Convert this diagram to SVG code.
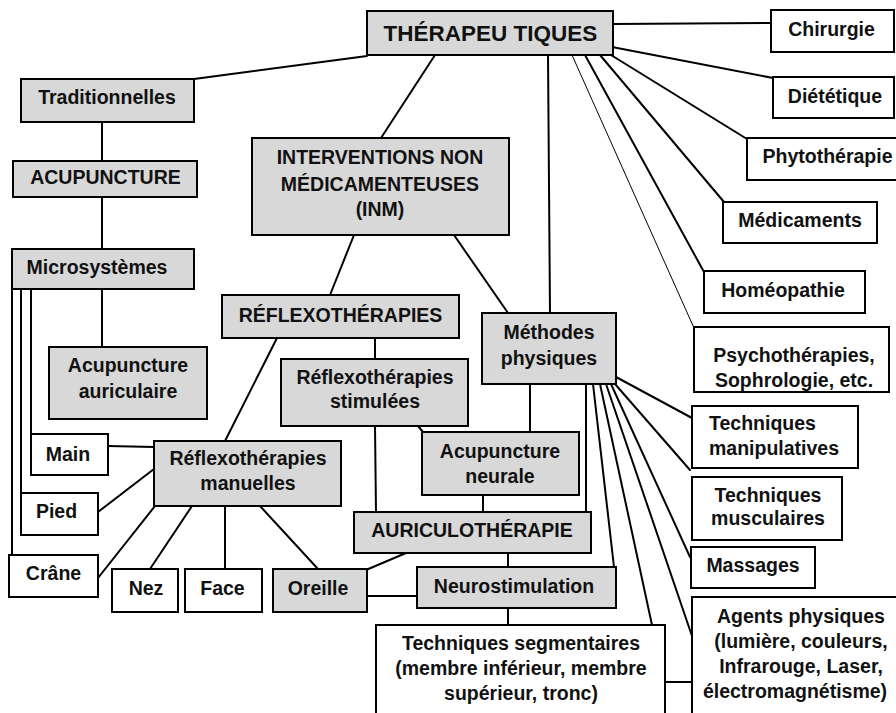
<svg xmlns="http://www.w3.org/2000/svg" width="896" height="713" viewBox="0 0 896 713">
<style>
.b{stroke:#000;stroke-width:2}
.g{fill:#d8d8d8}
.w{fill:#fff}
text{font-family:"Liberation Sans",Arial,sans-serif;font-weight:bold;font-size:19.5px;fill:#111;text-anchor:middle}
.c line{stroke:#000;stroke-width:2;stroke-linecap:round}
.c line.t{stroke-width:1}
</style>
<rect width="896" height="713" fill="#fff"/>
<g class="c" id="connectors">
<line x1="367" y1="56" x2="194" y2="79"/>
<line x1="435" y1="55" x2="381" y2="138"/>
<line x1="548" y1="55" x2="550" y2="313"/>
<line x1="613" y1="24" x2="771" y2="23"/>
<line x1="612" y1="47" x2="773" y2="78"/>
<line x1="611" y1="55" x2="747" y2="139"/>
<line x1="600" y1="55" x2="724" y2="202"/>
<line x1="585" y1="55" x2="704" y2="272"/>
<line class="t" x1="572" y1="55" x2="694" y2="328"/>
<line x1="102" y1="122" x2="102" y2="161"/>
<line x1="102" y1="197" x2="102" y2="249"/>
<line x1="102" y1="289" x2="102" y2="347"/>
<line x1="12" y1="289" x2="12" y2="555"/>
<line x1="21" y1="289" x2="21" y2="493"/>
<line x1="31" y1="289" x2="31" y2="434"/>
<line x1="454" y1="235" x2="508" y2="313"/>
<line x1="354" y1="235" x2="330" y2="295"/>
<line x1="375" y1="338" x2="375" y2="359"/>
<line x1="277" y1="338" x2="225" y2="441"/>
<line x1="375" y1="426" x2="376" y2="512"/>
<line x1="418" y1="426" x2="423" y2="432"/>
<line x1="530" y1="384" x2="530" y2="432"/>
<line x1="483" y1="495" x2="483" y2="512"/>
<line x1="508" y1="553" x2="508" y2="567"/>
<line x1="508" y1="608" x2="508" y2="625"/>
<line x1="406" y1="553" x2="366" y2="570"/>
<line x1="367" y1="596" x2="417" y2="596"/>
<line x1="108" y1="446" x2="154" y2="447"/>
<line x1="98" y1="512" x2="154" y2="469"/>
<line x1="98" y1="578" x2="155" y2="506"/>
<line x1="150" y1="569" x2="192" y2="506"/>
<line x1="225" y1="506" x2="225" y2="569"/>
<line x1="260" y1="506" x2="318" y2="569"/>
<line x1="586" y1="384" x2="586" y2="512"/>
<line x1="593" y1="384" x2="614" y2="567"/>
<line x1="600" y1="384" x2="652" y2="625"/>
<line x1="606" y1="384" x2="692" y2="636"/>
<line x1="611" y1="384" x2="690" y2="557"/>
<line x1="615" y1="384" x2="690" y2="470"/>
<line x1="616" y1="377" x2="692" y2="418"/>
<line x1="665" y1="682" x2="692" y2="682"/>
</g>
<g id="therapeutiques"><rect class="b g" x="367" y="11" width="246" height="44"/><text x="490.5" y="41" style="font-size:22.5px">THÉRAPEU TIQUES</text></g>
<g id="traditionnelles"><rect class="b g" x="21" y="79" width="173" height="43"/><text x="107" y="104">Traditionnelles</text></g>
<g id="acupuncture"><rect class="b g" x="13" y="161" width="184" height="36"/><text x="105.5" y="184">ACUPUNCTURE</text></g>
<g id="microsystemes"><rect class="b g" x="12" y="249" width="182" height="40"/><text x="97" y="274">Microsystèmes</text></g>
<g id="acu-auriculaire"><rect class="b g" x="49" y="347" width="158" height="72"/><text x="128" y="372">Acupuncture</text><text x="128" y="398">auriculaire</text></g>
<g id="inm"><rect class="b g" x="252" y="138" width="257" height="97"/><text x="380" y="164">INTERVENTIONS NON</text><text x="380" y="191">MÉDICAMENTEUSES</text><text x="380" y="216">(INM)</text></g>
<g id="reflexotherapies"><rect class="b g" x="222" y="295" width="237" height="43"/><text x="340.5" y="322">RÉFLEXOTHÉRAPIES</text></g>
<g id="reflexo-stimulees"><rect class="b g" x="281" y="359" width="187" height="67"/><text x="375" y="384">Réflexothérapies</text><text x="375" y="408">stimulées</text></g>
<g id="reflexo-manuelles"><rect class="b g" x="154" y="441" width="187" height="65"/><text x="248" y="465">Réflexothérapies</text><text x="248" y="490">manuelles</text></g>
<g id="methodes-physiques"><rect class="b g" x="482" y="313" width="134" height="71"/><text x="549" y="339">Méthodes</text><text x="549" y="365">physiques</text></g>
<g id="acu-neurale"><rect class="b g" x="422" y="432" width="157" height="63"/><text x="500" y="458">Acupuncture</text><text x="500" y="483">neurale</text></g>
<g id="auriculotherapie"><rect class="b g" x="354" y="512" width="237" height="41"/><text x="472" y="537">AURICULOTHÉRAPIE</text></g>
<g id="neurostimulation"><rect class="b g" x="417" y="567" width="199" height="41"/><text x="514" y="593">Neurostimulation</text></g>
<g id="techniques-segmentaires"><rect class="b w" x="376" y="625" width="289" height="100"/><text x="521" y="650">Techniques segmentaires</text><text x="521" y="675">(membre inférieur, membre</text><text x="521" y="700">supérieur, tronc)</text></g>
<g id="main"><rect class="b w" x="31" y="434" width="77" height="41"/><text x="68" y="461">Main</text></g>
<g id="pied"><rect class="b w" x="21" y="493" width="77" height="42"/><text x="56.5" y="518">Pied</text></g>
<g id="crane"><rect class="b w" x="9" y="555" width="89" height="42"/><text x="53.5" y="580">Crâne</text></g>
<g id="nez"><rect class="b w" x="112" y="569" width="66" height="43"/><text x="146" y="595">Nez</text></g>
<g id="face"><rect class="b w" x="185" y="569" width="77" height="43"/><text x="222.5" y="595">Face</text></g>
<g id="oreille"><rect class="b g" x="273" y="569" width="94" height="43"/><text x="318" y="595">Oreille</text></g>
<g id="chirurgie"><rect class="b w" x="771" y="10" width="123" height="42"/><text x="831.5" y="36">Chirurgie</text></g>
<g id="dietetique"><rect class="b w" x="773" y="77" width="121" height="41"/><text x="835" y="103">Diététique</text></g>
<g id="phytotherapie"><rect class="b w" x="747" y="138" width="160" height="42"/><text x="827.5" y="163">Phytothérapie</text></g>
<g id="medicaments"><rect class="b w" x="723" y="202" width="154" height="41"/><text x="800" y="227">Médicaments</text></g>
<g id="homeopathie"><rect class="b w" x="704" y="271" width="161" height="42"/><text x="783" y="297">Homéopathie</text></g>
<g id="psychotherapies"><rect class="b w" x="694" y="327" width="195" height="65"/><text x="794" y="362">Psychothérapies,</text><text x="794" y="387">Sophrologie, etc.</text></g>
<g id="techniques-manipulatives"><rect class="b w" x="692" y="406" width="166" height="62"/><text x="709" y="430" style="text-anchor:start">Techniques</text><text x="709" y="455" style="text-anchor:start">manipulatives</text></g>
<g id="techniques-musculaires"><rect class="b w" x="692" y="477" width="150" height="63"/><text x="768" y="502">Techniques</text><text x="768" y="525">musculaires</text></g>
<g id="massages"><rect class="b w" x="691" y="547" width="124" height="41"/><text x="753" y="572">Massages</text></g>
<g id="agents-physiques"><rect class="b w" x="692" y="597" width="220" height="130"/><text x="801" y="623">Agents physiques</text><text x="801" y="648">(lumière, couleurs,</text><text x="801" y="673">Infrarouge, Laser,</text><text x="795" y="698">électromagnétisme)</text></g>
</svg>
